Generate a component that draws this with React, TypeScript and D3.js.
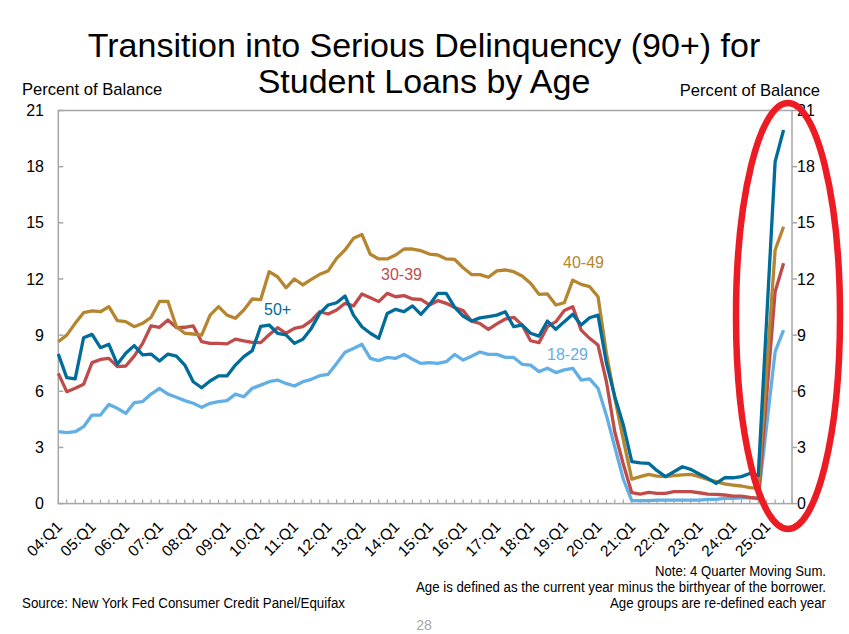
import React from 'react';
import * as d3 from 'd3';

// Quarters 04:Q1 .. 25:Q4 (data runs through 25:Q3, the axis has one empty slot)
const years = d3.range(4, 26).map((y) => String(y).padStart(2, '0'));
const quarters: string[] = years.flatMap((y) => ['Q1', 'Q2', 'Q3', 'Q4'].map((q) => `${y}:${q}`));
const tickLabels = quarters.filter((q) => q.endsWith('Q1'));
const yTicks = [0, 3, 6, 9, 12, 15, 18, 21];

const age18to29 = [
  3.84, 3.79, 3.84, 4.11, 4.73, 4.73, 5.3, 5.09, 4.82, 5.39, 5.45, 5.85, 6.16, 5.85, 5.68, 5.5,
  5.36, 5.14, 5.36, 5.45, 5.5, 5.85, 5.71, 6.16, 6.33, 6.51, 6.6, 6.42, 6.28, 6.51, 6.64, 6.83,
  6.91, 7.49, 8.08, 8.29, 8.51, 7.76, 7.64, 7.81, 7.76, 7.97, 7.71, 7.49, 7.53, 7.49, 7.58, 7.97,
  7.67, 7.87, 8.1, 7.97, 7.97, 7.81, 7.81, 7.44, 7.4, 7.05, 7.23, 7.0, 7.14, 7.23, 6.6, 6.66,
  6.16, 4.7, 3.0, 1.3, 0.16, 0.16, 0.16, 0.19, 0.19, 0.19, 0.19, 0.19, 0.19, 0.23, 0.23, 0.28,
  0.28, 0.31, 0.31, 0.28, 4.2, 8.12, 9.27,
];
const age30to39 = [
  6.96, 5.98, 6.16, 6.37, 7.53, 7.7, 7.76, 7.32, 7.35, 7.88, 8.56, 9.5, 9.42, 9.81, 9.4, 9.42,
  9.49, 8.65, 8.56, 8.56, 8.53, 8.79, 8.69, 8.61, 8.6, 9.02, 9.4, 9.1, 9.36, 9.45, 9.77, 10.25,
  10.13, 10.34, 10.7, 10.56, 11.2, 11.0, 10.79, 11.23, 11.05, 11.11, 10.93, 10.91, 10.61, 10.84, 10.7, 10.48,
  10.31, 9.75, 9.62, 9.31, 9.6, 9.86, 9.95, 9.54, 8.7, 8.6, 9.45, 9.72, 10.31, 10.52, 9.27, 8.83,
  8.47, 6.5, 3.8, 2.1, 0.58, 0.51, 0.6, 0.55, 0.55, 0.64, 0.64, 0.64, 0.58, 0.51, 0.49, 0.46,
  0.4, 0.4, 0.33, 0.28, 5.8, 11.32, 12.84,
];
const age40to49 = [
  8.65, 9.0, 9.63, 10.2, 10.3, 10.25, 10.52, 9.77, 9.72, 9.45, 9.63, 9.95, 10.8, 10.8, 9.45, 9.1,
  9.06, 9.0, 10.07, 10.52, 10.07, 9.9, 10.34, 10.93, 10.9, 12.39, 12.12, 11.53, 12.0, 11.68, 11.98, 12.25,
  12.43, 13.1, 13.55, 14.17, 14.38, 13.32, 13.07, 13.07, 13.28, 13.6, 13.6, 13.51, 13.33, 13.28, 13.07, 13.05,
  12.6, 12.24, 12.23, 12.09, 12.43, 12.48, 12.39, 12.16, 11.77, 11.18, 11.2, 10.61, 10.73, 11.94, 11.71, 11.59,
  11.05, 8.0, 5.6, 3.4, 1.31, 1.44, 1.56, 1.47, 1.44, 1.49, 1.53, 1.56, 1.44, 1.29, 1.17, 1.05,
  0.99, 0.94, 0.85, 0.81, 7.2, 13.55, 14.79,
];
const age50plus = [
  7.99, 6.73, 6.66, 8.86, 9.04, 8.33, 8.51, 7.44, 8.03, 8.44, 7.94, 7.99, 7.62, 7.99, 7.88, 7.4,
  6.51, 6.19, 6.55, 6.82, 6.82, 7.4, 7.85, 8.17, 9.47, 9.54, 9.1, 9.01, 8.56, 8.78, 9.36, 10.16,
  10.61, 10.73, 11.09, 10.07, 9.45, 9.1, 8.83, 10.16, 10.38, 10.25, 10.56, 10.11, 10.61, 11.23, 11.23, 10.48,
  10.02, 9.75, 9.92, 9.99, 10.07, 10.25, 9.45, 9.54, 9.1, 8.95, 9.75, 9.31, 9.72, 10.11, 9.54, 9.93,
  10.07, 7.5, 5.7, 4.2, 2.24, 2.18, 2.15, 1.76, 1.44, 1.7, 1.97, 1.83, 1.58, 1.35, 1.08, 1.38,
  1.38, 1.44, 1.61, 1.5, 9.9, 18.27, 19.96,
];

const series = [
  { name: '18-29', values: age18to29, color: '#62AFE6', lx: 547, ly: 360 },
  { name: '30-39', values: age30to39, color: '#BF4B4A', lx: 381, ly: 280 },
  { name: '40-49', values: age40to49, color: '#B5862F', lx: 563, ly: 268 },
  { name: '50+', values: age50plus, color: '#006C99', lx: 264, ly: 315 },
];

const W = 849;
const H = 634;
const left = 58.3;
const right = 792;
const top = 110.5;
const bottom = 503.6;
const font = "'Liberation Sans', Arial, sans-serif";
const axisGray = '#A6A6A6';

export default function App() {
  const x = d3.scalePoint<string>().domain(quarters).range([left, right]);
  const y = d3.scaleLinear().domain([0, 21]).range([bottom, top]);
  const line = d3
    .line<number>()
    .x((_, i) => x(quarters[i]) as number)
    .y((d) => y(d));

  return (
    <div style={{ position: 'absolute', left: 0, top: 0 }}>
      <svg width={W} height={H} style={{ display: 'block', fontFamily: font }}>
        <rect width={W} height={H} fill="#fff" />

        <text x={424} y={57} textAnchor="middle" fontSize={34} fill="#000">
          Transition into Serious Delinquency (90+) for
        </text>
        <text x={424} y={93} textAnchor="middle" fontSize={34} fill="#000">
          Student Loans by Age
        </text>

        <text x={22} y={95} fontSize={16.6}>Percent of Balance</text>
        <text x={820} y={96} fontSize={16.6} textAnchor="end">Percent of Balance</text>

        {/* plot frame */}
        <rect x={left} y={top} width={right - left} height={bottom - top} fill="none" stroke={axisGray} strokeWidth={1.5} />

        {yTicks.map((t) => (
          <g key={t}>
            <line x1={left} x2={left + 5} y1={y(t)} y2={y(t)} stroke={axisGray} strokeWidth={1.5} />
            <line x1={right} x2={right + 5} y1={y(t)} y2={y(t)} stroke={axisGray} strokeWidth={1.5} />
            <text x={44} y={y(t)} dy="0.35em" textAnchor="end" fontSize={16}>{t}</text>
            <text x={797} y={y(t)} dy="0.35em" fontSize={16}>{t}</text>
          </g>
        ))}

        {quarters.map((q) => (
          <line key={q} x1={x(q)} x2={x(q)} y1={bottom} y2={bottom - 4} stroke={axisGray} strokeWidth={1.2} />
        ))}
        {tickLabels.map((q) => (
          <text
            key={q}
            transform={`translate(${(x(q) as number) + 4.7},${bottom + 24}) rotate(-45)`}
            textAnchor="end"
            fontSize={15.5}
          >
            {q}
          </text>
        ))}

        {series.map((s) => (
          <path key={s.name} d={line(s.values) || ''} fill="none" stroke={s.color} strokeWidth={3.3} strokeLinejoin="round" />
        ))}
        {series.map((s) => (
          <text key={s.name} x={s.lx} y={s.ly} fontSize={16} fill={s.color}>{s.name}</text>
        ))}

        <ellipse cx={788} cy={316} rx={52} ry={213} fill="none" stroke="#ED1C24" strokeWidth={6.5} />

        <g fontSize={14} textAnchor="end">
          <text x={826} y={576} textLength={171} lengthAdjust="spacingAndGlyphs">Note: 4 Quarter Moving Sum.</text>
          <text x={826} y={592} textLength={410} lengthAdjust="spacingAndGlyphs">
            Age is defined as the current year minus the birthyear of the borrower.
          </text>
          <text x={826} y={608} textLength={216} lengthAdjust="spacingAndGlyphs">Age groups are re-defined each year</text>
        </g>
        <text x={22} y={608} fontSize={14} textLength={323} lengthAdjust="spacingAndGlyphs">
          Source: New York Fed Consumer Credit Panel/Equifax
        </text>
        <text x={424} y={630} fontSize={14} textAnchor="middle" fill="#A6A6A6">28</text>
      </svg>
    </div>
  );
}
